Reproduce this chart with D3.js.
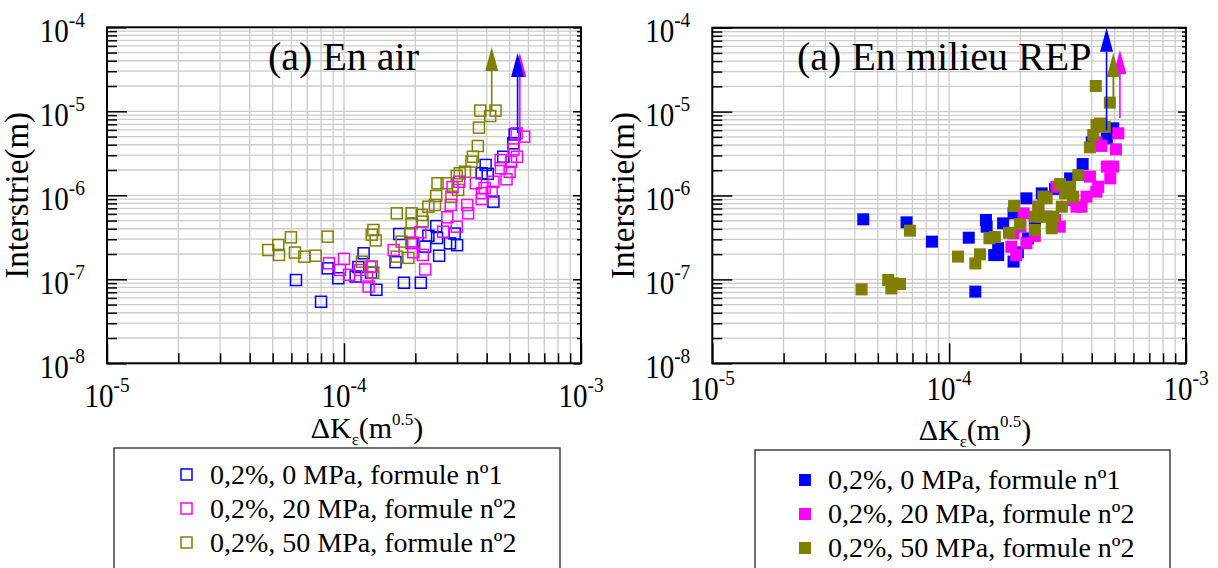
<!DOCTYPE html>
<html><head><meta charset="utf-8">
<script src="https://cdn.jsdelivr.net/npm/d3@7"></script>
<style>body{margin:0;background:#fff} svg{display:block} svg text{font-family:"Liberation Serif","Times New Roman",Times,serif;}</style>
</head><body><svg id="c" width="1218" height="568"></svg>
<script>
// ---------- data ----------
const seriesNames = ["0,2%, 0 MPa, formule nº1", "0,2%, 20 MPa, formule nº2", "0,2%, 50 MPa, formule nº2"];
const seriesColors = ["#0000ff", "#ff00ff", "#808000"];
const panelTitles = ["(a) En air", "(a) En milieu REP"];
const xDomain = [1e-5, 1e-3];
const yDomain = [1e-8, 1e-4];
const xTickValues = [1e-5, 1e-4, 1e-3];
const xTickExponents = ["-5", "-4", "-3"];
const yTickValues = [1e-8, 1e-7, 1e-6, 1e-5, 1e-4];
const yTickExponents = ["-8", "-7", "-6", "-5", "-4"];
const xTitle = ["ΔK", "ε", "(m", "0.5", ")"];
const yTitle = "Interstrie(m)";

// En air (hollow markers)
const airBlue = [[6.27e-5,9.8e-8],[8.0e-5,5.4e-8],[8.53e-5,1.35e-7],[9.46e-5,1.03e-7],[1.12e-4,1.08e-7],[1.21e-4,2.04e-7],[1.37e-4,7.5e-8],[1.15e-4,1.4e-7],[1.30e-4,1.2e-7],[1.71e-4,3.46e-7],[1.79e-4,9.1e-8],[2.11e-4,9.1e-8],[2.20e-4,2.45e-7],[2.52e-4,1.91e-7],[2.27e-4,3.3e-7],[2.47e-4,3.1e-7],[2.80e-4,2.68e-7],[3.00e-4,2.55e-7],[2.93e-4,3.5e-7],[1.93e-4,2.7e-7],[1.65e-4,1.6e-7],[2.45e-4,4.3e-7],[4.27e-4,8.4e-7],[3.96e-4,2.30e-6],[4.04e-4,1.8e-6],[3.81e-4,1.83e-6],[4.70e-4,2.88e-6],[5.18e-4,4.16e-6],[5.25e-4,5.3e-6]];
const airPink = [[8.64e-5,1.55e-7],[1.0e-4,1.75e-7],[9.62e-5,1.29e-7],[1.05e-4,1.13e-7],[1.17e-4,1.29e-7],[1.31e-4,1.42e-7],[1.25e-4,1.06e-7],[1.27e-4,8.2e-8],[1.62e-4,2.23e-7],[1.96e-4,2.73e-7],[2.10e-4,3.62e-7],[2.15e-4,1.95e-7],[2.20e-4,1.31e-7],[1.96e-4,2.1e-7],[2.62e-4,3.69e-7],[2.73e-4,5.47e-7],[2.99e-4,4.23e-7],[2.82e-4,7.67e-7],[2.87e-4,1.25e-6],[3.06e-4,1.45e-6],[3.31e-4,7.67e-7],[3.34e-4,6.1e-7],[3.60e-4,1.39e-6],[3.81e-4,9.0e-7],[3.83e-4,1.06e-6],[3.92e-4,1.22e-6],[4.27e-4,1.45e-6],[4.20e-4,1.1e-6],[4.58e-4,2.63e-6],[4.59e-4,2.1e-6],[4.85e-4,1.55e-6],[5.0e-4,1.9e-6],[5.07e-4,2.5e-6],[5.19e-4,3.52e-6],[5.37e-4,2.88e-6],[5.35e-4,5.47e-6],[5.76e-4,4.99e-6]];
const airOlive = [[4.79e-5,2.23e-7],[5.28e-5,2.56e-7],[5.32e-5,1.95e-7],[5.97e-5,3.16e-7],[6.21e-5,2.08e-7],[6.80e-5,1.86e-7],[7.59e-5,1.91e-7],[8.53e-5,3.22e-7],[1.33e-4,3.86e-7],[1.31e-4,3.4e-7],[1.36e-4,2.9e-7],[1.19e-4,1.62e-7],[1.29e-4,1.4e-7],[1.33e-4,1.2e-7],[1.67e-4,6.1e-7],[1.93e-4,6.1e-7],[2.13e-4,5.83e-7],[1.93e-4,4.64e-7],[2.15e-4,4.86e-7],[1.75e-4,2.81e-7],[1.67e-4,1.86e-7],[1.87e-4,1.8e-7],[1.90e-4,3.53e-7],[2.27e-4,7.32e-7],[2.42e-4,7.67e-7],[2.45e-4,9.81e-7],[2.48e-4,1.39e-6],[2.71e-4,1.39e-6],[2.84e-4,9.63e-7],[3.03e-4,1.16e-6],[2.99e-4,1.7e-6],[3.08e-4,1.83e-6],[3.24e-4,1.91e-6],[3.45e-4,2.52e-6],[3.50e-4,2.88e-6],[3.67e-4,3.86e-6],[3.71e-4,6.39e-6],[3.76e-4,1.02e-5],[4.14e-4,8.79e-6],[4.36e-4,1.02e-5]];
// arrows: [series index, x, y start, y tip]
const airArrows = [[2,4.20e-4,1.0e-5,5.83e-5],[1,5.52e-4,5.5e-6,4.94e-5],[0,5.40e-4,5.5e-6,4.94e-5]];

// En milieu REP (filled markers)
const repBlue = [[4.34e-5,5.2e-7],[6.61e-5,4.79e-7],[8.46e-5,2.82e-7],[1.21e-4,3.14e-7],[1.29e-4,7.15e-8],[1.43e-4,5.1e-7],[1.44e-4,4.25e-7],[1.55e-4,1.95e-7],[1.61e-4,1.95e-7],[1.69e-4,4.66e-7],[1.61e-4,2.35e-7],[1.87e-4,1.63e-7],[1.95e-4,2.1e-7],[2.12e-4,9.25e-7],[2.46e-4,1.06e-6],[2.15e-4,3.08e-7],[1.87e-4,6.12e-7],[2.3e-4,5.0e-7],[2.8e-4,1.2e-6],[3.24e-4,1.6e-6],[3.66e-4,2.37e-6],[4.0e-4,4.3e-6],[4.63e-4,4.8e-6],[4.93e-4,6.32e-6]];
const repPink = [[5.18e-4,5.51e-6],[5.06e-4,3.55e-6],[4.93e-4,2.21e-6],[4.63e-4,2.21e-6],[4.79e-4,1.6e-6],[4.26e-4,1.27e-6],[3.93e-4,1.68e-6],[4.18e-4,1.11e-6],[3.80e-4,9.68e-7],[3.62e-4,7.36e-7],[3.45e-4,7.36e-7],[2.84e-4,1.27e-6],[2.93e-4,4.25e-7],[2.80e-4,5.1e-7],[2.06e-4,6.12e-7],[2.0e-4,4.25e-7],[1.87e-4,3.54e-7],[1.83e-4,2.45e-7],[1.92e-4,1.95e-7],[2.12e-4,2.7e-7],[2.3e-4,3.3e-7],[2.58e-4,5.6e-7],[2.38e-4,7.36e-7],[3.34e-4,8.8e-7],[4.4e-4,3.9e-6],[4.18e-4,4.3e-6]];
const repOlive = [[4.27e-5,7.6e-8],[5.53e-5,9.84e-8],[5.79e-5,8.98e-8],[6.2e-5,8.81e-8],[5.7e-5,7.8e-8],[6.83e-5,3.81e-7],[1.09e-4,1.87e-7],[1.29e-4,1.55e-7],[1.35e-4,1.99e-7],[1.48e-4,3.09e-7],[1.56e-4,3.2e-7],[1.79e-4,3.6e-7],[1.99e-4,4.57e-7],[1.88e-4,7.49e-7],[2.3e-4,3.88e-7],[2.3e-4,5.6e-7],[2.38e-4,7.36e-7],[2.45e-4,5.6e-7],[2.5e-4,9.7e-7],[2.58e-4,9.25e-7],[2.71e-4,4.06e-7],[2.75e-4,5.6e-7],[2.94e-4,1.37e-6],[2.99e-4,7.36e-7],[3.09e-4,1.06e-6],[3.24e-4,1.27e-6],[3.34e-4,9.68e-7],[3.51e-4,1.75e-6],[3.93e-4,3.75e-6],[4.06e-4,5.26e-6],[4.19e-4,6.92e-6],[4.33e-4,7.2e-6],[4.54e-4,6.6e-6],[4.77e-4,1.28e-5],[4.16e-4,2.02e-5]];
const repArrows = [[1,5.26e-4,8.4e-6,5.42e-5],[2,4.93e-4,1.3e-5,4.99e-5],[0,4.62e-4,6.0e-6,1.0e-4]];

// ---------- layout ----------
const FONT = '"Liberation Serif","Times New Roman",Times,serif';
const panels = [
  {series:[airBlue, airPink, airOlive], order:[0,2,1], arrows:airArrows, filled:false, title:panelTitles[0],
   left:107, right:581, top:27.3, bottom:363.3, titleX:268, xLabY:407, xTitleX:367, xTitleY:438, yTitleX:28,
   leg:{x:114, y:448, w:446, mx:187, tx:210, rows:[475,509,543]}},
  {series:[repBlue, repPink, repOlive], order:[0,1,2], arrows:repArrows, filled:true, title:panelTitles[1],
   left:712.3, right:1186, top:27.7, bottom:363.3, titleX:797, xLabY:400, xTitleX:975, xTitleY:440, yTitleX:634,
   leg:{x:755, y:450, w:415, mx:805, tx:828, rows:[480,514,548]}}
];

const svg = d3.select("#c");
const isMajor = v => Math.abs(Math.log10(v) - Math.round(Math.log10(v))) < 1e-9;

panels.forEach(P => {
  const x = d3.scaleLog().domain(xDomain).range([P.left, P.right]);
  const y = d3.scaleLog().domain(yDomain).range([P.bottom, P.top]);
  const g = svg.append("g");
  const xt = x.ticks(), yt = y.ticks();

  // grid
  g.append("g").selectAll("line").data(xt).join("line")
    .attr("x1", d => x(d)).attr("x2", d => x(d)).attr("y1", P.top).attr("y2", P.bottom)
    .attr("stroke", "#cccccc").attr("stroke-width", 1.3);
  g.append("g").selectAll("line").data(yt).join("line")
    .attr("y1", d => y(d)).attr("y2", d => y(d)).attr("x1", P.left).attr("x2", P.right)
    .attr("stroke", "#cccccc").attr("stroke-width", 1.3);

  // ticks
  const styleAxis = sel => { sel.select(".domain").remove(); sel.selectAll("line").attr("stroke", "#000").attr("stroke-width", 1.5); sel.selectAll("text").remove(); };
  const xMin = xt.filter(v => !isMajor(v)), xMaj = xt.filter(isMajor);
  const yMin = yt.filter(v => !isMajor(v)), yMaj = yt.filter(isMajor);
  g.append("g").attr("transform", `translate(0,${P.bottom})`).call(d3.axisBottom(x).tickValues(xMin).tickSizeInner(-10).tickSizeOuter(0)).call(styleAxis);
  g.append("g").attr("transform", `translate(0,${P.bottom})`).call(d3.axisBottom(x).tickValues(xMaj).tickSizeInner(-20).tickSizeOuter(0)).call(styleAxis);
  g.append("g").attr("transform", `translate(${P.left},0)`).call(d3.axisLeft(y).tickValues(yMin).tickSizeInner(-10).tickSizeOuter(0)).call(styleAxis);
  g.append("g").attr("transform", `translate(${P.left},0)`).call(d3.axisLeft(y).tickValues(yMaj).tickSizeInner(-20).tickSizeOuter(0)).call(styleAxis);
  g.append("g").attr("transform", `translate(${P.right},0)`).call(d3.axisRight(y).tickValues(yMin).tickSizeInner(-4).tickSizeOuter(0)).call(styleAxis);
  g.append("g").attr("transform", `translate(${P.right},0)`).call(d3.axisRight(y).tickValues(yMaj).tickSizeInner(-8).tickSizeOuter(0)).call(styleAxis);

  // frame
  g.append("rect").attr("x", P.left).attr("y", P.top).attr("width", P.right - P.left).attr("height", P.bottom - P.top)
    .attr("fill", "none").attr("stroke", "#000").attr("stroke-width", 2);

  // tick labels
  g.append("g").selectAll("text").data(xTickValues).join("text")
    .attr("transform", d => `translate(${x(d)},${P.xLabY}) scale(0.88,1)`)
    .attr("text-anchor", "middle").attr("font-size", 33).attr("font-family", FONT)
    .each(function (d, i) {
      const t = d3.select(this);
      t.append("tspan").text("10");
      t.append("tspan").attr("dy", -15).attr("font-size", 22).text(xTickExponents[i]);
    });
  g.append("g").selectAll("text").data(yTickValues).join("text")
    .attr("transform", d => `translate(${P.left - 22},${y(d) + 14.5}) scale(0.88,1)`)
    .attr("text-anchor", "end").attr("font-size", 33).attr("font-family", FONT)
    .each(function (d, i) {
      const t = d3.select(this);
      t.append("tspan").text("10");
      t.append("tspan").attr("dy", -15).attr("font-size", 22).text(yTickExponents[i]);
    });

  // axis titles
  const xtT = g.append("text").attr("x", P.xTitleX).attr("y", P.xTitleY).attr("text-anchor", "middle").attr("font-size", 30).attr("font-family", FONT);
  xtT.append("tspan").text(xTitle[0]);
  xtT.append("tspan").attr("dy", 7).attr("font-size", 17).text(xTitle[1]);
  xtT.append("tspan").attr("dy", -7).text(xTitle[2]);
  xtT.append("tspan").attr("dy", -13).attr("font-size", 17).text(xTitle[3]);
  xtT.append("tspan").attr("dy", 13).text(xTitle[4]);
  g.append("text").attr("transform", `translate(${P.yTitleX},${(P.top + P.bottom) / 2}) rotate(-90)`)
    .attr("text-anchor", "middle").attr("font-size", 33).attr("font-family", FONT).text(yTitle);

  // panel title
  g.append("text").attr("x", P.titleX).attr("y", 70).attr("font-size", 40).attr("font-family", FONT).text(P.title);

  // markers
  const S = P.filled ? 12 : 11;
  P.order.forEach(si => {
    g.append("g").selectAll("rect").data(P.series[si]).join("rect")
      .attr("x", d => x(d[0]) - S / 2).attr("y", d => y(d[1]) - S / 2).attr("width", S).attr("height", S)
      .attr("fill", P.filled ? seriesColors[si] : "none")
      .attr("stroke", P.filled ? "none" : seriesColors[si]).attr("stroke-width", 1.5);
  });

  // arrows
  P.arrows.forEach(a => {
    const c = seriesColors[a[0]], ax = x(a[1]), y0 = y(a[2]), yt0 = y(a[3]);
    const th = 24, tw = 13;
    g.append("line").attr("x1", ax).attr("x2", ax).attr("y1", y0).attr("y2", yt0 + th)
      .attr("stroke", c).attr("stroke-width", 1.6);
    g.append("path").attr("d", `M${ax},${yt0} L${ax - tw / 2},${yt0 + th} L${ax + tw / 2},${yt0 + th} Z`).attr("fill", c);
  });

  // legend
  const L = P.leg;
  const lg = g.append("g");
  lg.append("rect").attr("x", L.x).attr("y", L.y).attr("width", L.w).attr("height", 150)
    .attr("fill", "#fff").attr("stroke", "#222").attr("stroke-width", 1.3);
  const rows = lg.selectAll("g.row").data(seriesNames).join("g").attr("class", "row");
  rows.append("rect").attr("x", L.mx - 6).attr("y", (d, i) => L.rows[i] - 6).attr("width", P.filled ? 12 : 11).attr("height", P.filled ? 12 : 11)
    .attr("fill", (d, i) => P.filled ? seriesColors[i] : "none")
    .attr("stroke", (d, i) => P.filled ? "none" : seriesColors[i]).attr("stroke-width", 1.5);
  rows.append("text").attr("x", L.tx).attr("y", (d, i) => L.rows[i] + 9).attr("font-size", 28).attr("font-family", FONT).text(d => d);
});
</script>
</body></html>
